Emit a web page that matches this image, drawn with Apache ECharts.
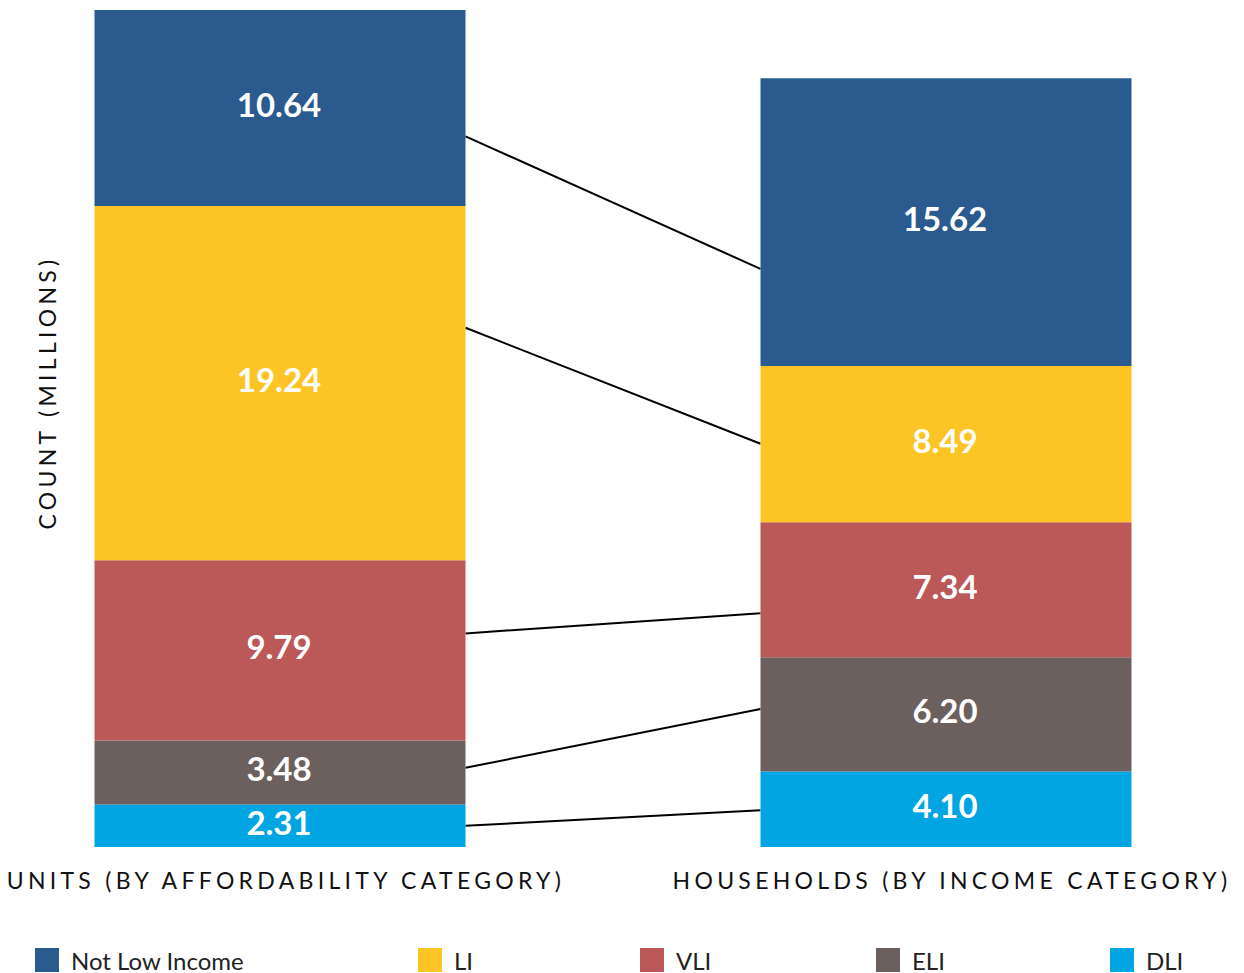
<!DOCTYPE html>
<html>
<head>
<meta charset="utf-8">
<script src="https://cdn.jsdelivr.net/npm/echarts@6/dist/echarts.min.js"></script>
<style>
  html, body { margin: 0; padding: 0; background: #fff; }
  #main { width: 1244px; height: 973px; }
  /* spaced-out axis titles */
  #main svg text[style*="Liberation"] { letter-spacing: 4.3px; }
</style>
</head>
<body>
<div id="main"></div>
<script>
// groups on the x axis
var categories = ['UNITS (BY AFFORDABILITY CATEGORY)', 'HOUSEHOLDS (BY INCOME CATEGORY)'];

// segment values, [units, households], in millions
var notLowIncome = [10.64, 15.62];
var li = [19.24, 8.49];
var vli = [9.79, 7.34];
var eli = [3.48, 6.20];
var dli = [2.31, 4.10];

var seriesNames = ['Not Low Income', 'LI', 'VLI', 'ELI', 'DLI'];
var seriesColors = ['#2B5A8E', '#FDC426', '#BB5858', '#6B605E', '#00A5E2'];

// connector lines: level on units bar -> level on households bar (millions)
var connectorLeft = [38.6, 28.2, 11.6, 4.3, 1.15];
var connectorRight = [31.4, 21.9, 12.7, 7.5, 2.0];

var barWidth = 371;
var font = 'Lato, "Noto Sans", sans-serif';
var titleFont = 'Lato, "Liberation Sans", sans-serif';
var legendLeft = [35, 418, 640, 876, 1110];

var myChart = echarts.init(document.getElementById('main'), null, { renderer: 'svg' });

var stackData = [notLowIncome, li, vli, eli, dli];
var series = [];
// bottom-up stacking order
for (var i = stackData.length - 1; i >= 0; i--) {
    series.push({
        name: seriesNames[i],
        type: 'bar',
        stack: 'total',
        barWidth: barWidth,
        clip: false,
        itemStyle: { color: seriesColors[i] },
        label: {
            show: true,
            position: 'inside',
            offset: [-1, -4],
            color: '#fff',
            fontSize: 33,
            fontWeight: 'bold',
            fontFamily: font,
            formatter: function (p) { return p.value.toFixed(2); }
        },
        data: stackData[i]
    });
}

var connectors = [];
for (var j = 0; j < connectorLeft.length; j++) {
    connectors.push([0, connectorLeft[j], connectorRight[j]]);
}

series.push({
    type: 'custom',
    silent: true,
    encode: { x: 0, y: [1, 2] },
    renderItem: function (params, api) {
        var p1 = api.coord([0, api.value(1)]);
        var p2 = api.coord([1, api.value(2)]);
        return {
            type: 'line',
            shape: { x1: p1[0] + barWidth / 2, y1: p1[1], x2: p2[0] - barWidth / 2, y2: p2[1] },
            style: { stroke: '#000', lineWidth: 2 }
        };
    },
    data: connectors,
    z: 1
});

// one legend per item so each sits where the original puts it
var legends = [];
for (var k = 0; k < seriesNames.length; k++) {
    legends.push({
        data: [seriesNames[k]],
        left: legendLeft[k],
        top: 948,
        padding: 0,
        icon: 'rect',
        itemWidth: 24,
        itemHeight: 24,
        textStyle: { fontSize: 24, color: '#222', fontFamily: font, padding: [0, 0, 0, 7] }
    });
}

var option = {
    animation: false,
    grid: { left: 280, right: 298, top: 10, bottom: 126 },
    legend: legends,
    xAxis: {
        type: 'category',
        data: categories,
        boundaryGap: false,
        axisLine: { show: false },
        axisTick: { show: false },
        axisLabel: {
            margin: 21,
            fontSize: 23,
            color: '#111',
            fontFamily: titleFont,
            interval: 0,
            padding: [0, 0, 0, 12]
        }
    },
    yAxis: {
        type: 'value',
        min: 0,
        max: 'dataMax',
        name: 'COUNT (MILLIONS)',
        nameLocation: 'middle',
        nameGap: 222,
        nameTextStyle: {
            fontSize: 23,
            color: '#111',
            fontFamily: titleFont,
            padding: [0, 0, 0, 72]
        },
        splitLine: { show: false },
        axisLine: { show: false },
        axisTick: { show: false },
        axisLabel: { show: false }
    },
    series: series
};

myChart.setOption(option);
</script>
</body>
</html>
